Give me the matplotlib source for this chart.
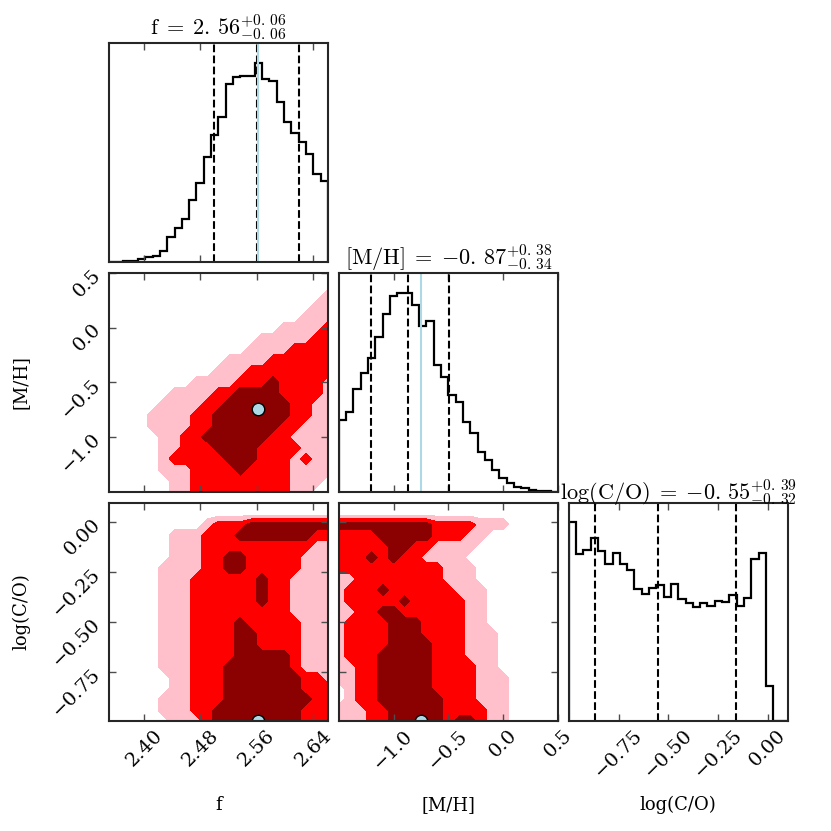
import numpy as np
import matplotlib
matplotlib.use("Agg")
import matplotlib.pyplot as plt

plt.rcParams['font.family'] = ['DejaVu Serif']
plt.rcParams['mathtext.fontset'] = 'cm'
plt.rcParams['font.size'] = 14

labels = ['f', '[M/H]', 'log(C/O)']
ranges = [(2.35, 2.661), (-1.5, 0.5), (-1.0, 0.1)]
ticks = [[2.40, 2.48, 2.56, 2.64], [-1.0, -0.5, 0.0, 0.5], [-0.75, -0.50, -0.25, 0.00]]
medians = [2.56, -0.87, -0.55]
err_lo = [0.06, 0.34, 0.32]
err_hi = [0.06, 0.38, 0.39]
truths = [2.562, -0.745, -1.0]

# 1d histograms, 30 bins over each range
hist_f = [1, 1, 2, 4, 8, 15, 17, 33, 75, 103, 128, 185, 237, 315, 380,
          435, 532, 553, 557, 555, 595, 547, 540, 480, 420, 385, 360, 323, 263, 242]
hist_mh = [215, 240, 307, 355, 400, 465, 533, 587, 597, 597, 560, 497, 512, 380, 345,
           290, 270, 210, 175, 120, 95, 65, 42, 25, 13, 10, 5, 3, 0.5, 0]
hist_co = [590, 496, 508, 545, 505, 466, 498, 468, 450, 393, 378, 396, 403, 370, 406,
           363, 351, 340, 350, 341, 358, 355, 375, 343, 366, 483, 500, 106, 0, 0]
hists = [hist_f, hist_mh, hist_co]

# 2d credible regions: 0 outside, 1 pink, 2 red, 3 dark red; rows top -> bottom
grid_f_mh = [
    "000000000000000000000",
    "000000000000000000000",
    "000000000000000000001",
    "000000000000000000011",
    "000000000000000000111",
    "000000000000000011112",
    "000000000000001111122",
    "000000000000011112222",
    "000000000001111222222",
    "000000000011122222222",
    "000000001111222322221",
    "000000111122333322221",
    "000001111223333332211",
    "000011112233333332211",
    "000011112233333322111",
    "000001122333333221111",
    "000001122233332222111",
    "000001222223332221211",
    "000001112222322221111",
    "000000112222222221110",
    "000000112222222221100",
]
grid_f_co = [
    "000000000000000000000",
    "000000000000000000000",
    "000000000122233333333",
    "000000111222333333322",
    "000000111222222222211",
    "000000111223322222111",
    "000001111223322222111",
    "000001112222223221111",
    "000001112222223221111",
    "000001112222223221111",
    "000001112222222221111",
    "000001112222322222111",
    "000001112222332222111",
    "000001112222332222111",
    "000001112222333332111",
    "000001112223333332111",
    "000000112223333333221",
    "000000112223333333222",
    "000001112223333333322",
    "000001112233333333222",
    "000000111233333333222",
]
grid_mh_co = [
    "000000000000000000000",
    "000000000000000000000",
    "333333333222211100000",
    "222233333222110000000",
    "222223322111100000000",
    "222323221111000000000",
    "222222222211100000000",
    "112222222211100000000",
    "122232222221110000000",
    "122222322222110000000",
    "112233222222110000000",
    "122223332222110000000",
    "122223332222111000000",
    "122223333222111000000",
    "122233333222111000000",
    "112233333222211000000",
    "112233333222211100000",
    "012233333222211100000",
    "012233333322211100000",
    "111223333322221100000",
    "111223333323321100000",
]
grids = {(1, 0): grid_f_mh, (2, 0): grid_f_co, (2, 1): grid_mh_co}

fill_colors = ['pink', 'red', 'darkred']
truth_color = 'lightblue'

fig, axes = plt.subplots(3, 3, figsize=(8.31, 8.31), dpi=100)
fig.subplots_adjust(left=0.131, right=0.948, bottom=0.132, top=0.948,
                    wspace=0.05, hspace=0.05)


def style_ax(ax):
    for sp in ax.spines.values():
        sp.set_linewidth(1.5)
        sp.set_color('0.15')
    ax.tick_params(direction='in', top=True, right=True, length=5, width=1,
                   color='0.3', labelsize=14)


def num(v):
    # thin gap after the decimal point, as in the original titles
    s = f"{abs(v):.2f}".replace('.', '.\\,')
    return "{-}" + s if v < 0 else s


for i in range(3):
    for j in range(3):
        ax = axes[i, j]
        if j > i:
            ax.axis('off')
            continue
        style_ax(ax)
        ax.set_xlim(ranges[j])
        ax.set_xticks(ticks[j])
        if i == j:
            vals = np.array(hists[i], dtype=float)
            edges = np.linspace(ranges[i][0], ranges[i][1], len(vals) + 1)
            ax.stairs(vals, edges, color='black', lw=1.6)
            ax.set_ylim(0, 1.1 * vals.max())
            ax.set_yticks([])
            q = [medians[i] - err_lo[i], medians[i], medians[i] + err_hi[i]]
            for v in q:
                ax.axvline(v, color='black', ls='--', lw=1.5)
            ax.axvline(truths[i], color=truth_color, lw=1.5)
            title = (r"$\mathrm{" + labels[i] + r"}\;=\;" + num(medians[i])
                     + r"_{-" + num(err_lo[i]) + r"}^{+" + num(err_hi[i]) + r"}$")
            ax.set_title(title, fontsize=16, pad=2)
        else:
            z = np.array([[int(c) for c in row] for row in grids[(i, j)]], dtype=float)
            xs = np.linspace(ranges[j][0], ranges[j][1], z.shape[1])
            ys = np.linspace(ranges[i][1], ranges[i][0], z.shape[0])
            ax.contourf(xs, ys, z, levels=[0.5, 1.5, 2.5, 3.5], colors=fill_colors)
            ax.plot(truths[j], truths[i], 'o', color=truth_color, mec='black', ms=9, mew=1)
            ax.set_yticks(ticks[i])
            ax.set_ylim(ranges[i])
            if j == 0:
                ax.set_ylabel(labels[i], fontsize=13)
                ax.yaxis.set_label_coords(-0.36, 0.5)
                for lab in ax.get_yticklabels():
                    lab.set_rotation(45)
            else:
                ax.set_yticklabels([])
        ax.set_xlim(ranges[j])
        if i == 2:
            ax.set_xlabel(labels[j], fontsize=13)
            ax.xaxis.set_label_coords(0.5, -0.34)
            for lab in ax.get_xticklabels():
                lab.set_rotation(45)
        else:
            ax.set_xticklabels([])

fig.savefig('out.png', dpi=100)
